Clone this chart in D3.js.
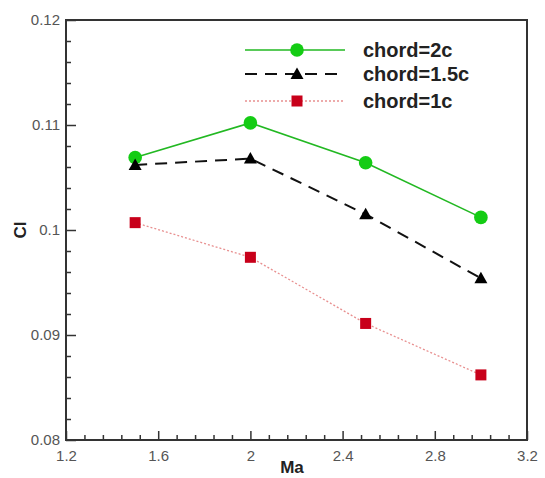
<!DOCTYPE html>
<html>
<head>
<meta charset="utf-8">
<script src="https://cdn.jsdelivr.net/npm/d3@7/dist/d3.min.js"></script>
<style>
  html, body { margin: 0; padding: 0; background: #fff; }
  svg { display: block; font-family: "Liberation Sans", Arial, sans-serif; }
</style>
</head>
<body>
<svg id="chart" width="545" height="478"></svg>
<script>
// Mach numbers
const machNumbers = [1.5, 2.0, 2.5, 3.0];
// Lift coefficient per chord length
const clChord2c   = [0.1069, 0.1102, 0.1064, 0.1012];
const clChord15c  = [0.1062, 0.1068, 0.1015, 0.0954];
const clChord1c   = [0.1007, 0.0974, 0.0911, 0.0862];

const seriesNames = ["chord=2c", "chord=1.5c", "chord=1c"];
const xTicks = [1.2, 1.6, 2.0, 2.4, 2.8, 3.2];
const yTicks = [0.08, 0.09, 0.10, 0.11, 0.12];

const svg = d3.select("#chart");
const plotLeft = 66, plotRight = 527, plotTop = 20, plotBottom = 440;

const x = d3.scaleLinear().domain([1.2, 3.2]).range([plotLeft, plotRight]);
const y = d3.scaleLinear().domain([0.08, 0.12]).range([plotBottom, plotTop]);

const axisColor = "#333";

// minor ticks (inward)
const xMinor = d3.range(0, 26).map(i => 1.2 + i * 0.08).filter(v => !xTicks.some(t => Math.abs(t - v) < 1e-6));
const yMinor = d3.range(0, 21).map(i => 0.08 + i * 0.002).filter(v => !yTicks.some(t => Math.abs(t - v) < 1e-6));

const xAxisG = svg.append("g").attr("transform", `translate(0,${plotBottom})`)
  .call(d3.axisBottom(x).tickValues(xTicks).tickSize(-9).tickPadding(10)
        .tickFormat(d => String(+d.toFixed(1))));
const xMinorG = svg.append("g").attr("transform", `translate(0,${plotBottom})`)
  .call(d3.axisBottom(x).tickValues(xMinor).tickSize(-5).tickFormat(""));

const yAxisG = svg.append("g").attr("transform", `translate(${plotLeft},0)`)
  .call(d3.axisLeft(y).tickValues(yTicks).tickSize(-10).tickPadding(6)
        .tickFormat(d => String(+d.toFixed(2))));
const yMinorG = svg.append("g").attr("transform", `translate(${plotLeft},0)`)
  .call(d3.axisLeft(y).tickValues(yMinor).tickSize(-5).tickFormat(""));

[xAxisG, xMinorG, yAxisG, yMinorG].forEach(g => {
  g.select(".domain").remove();
  g.selectAll(".tick line").attr("stroke", axisColor).attr("stroke-width", 1.5);
  g.selectAll(".tick text").attr("fill", "#555").style("font-size", "15px");
});

// plot frame
svg.append("rect")
  .attr("x", plotLeft).attr("y", plotTop)
  .attr("width", plotRight - plotLeft).attr("height", plotBottom - plotTop)
  .attr("fill", "none").attr("stroke", axisColor).attr("stroke-width", 2);

// axis titles
svg.append("text").attr("x", 292).attr("y", 473)
  .attr("text-anchor", "middle").attr("font-weight", "bold")
  .attr("font-size", 17).attr("fill", "#222").text("Ma");
svg.append("text").attr("transform", `translate(26,230) rotate(-90)`)
  .attr("text-anchor", "middle").attr("font-weight", "bold")
  .attr("font-size", 17).attr("fill", "#222").text("Cl");

const styles = [
  { data: clChord2c,  line: "#22b822", width: 1.6, dash: null,   marker: "circle" },
  { data: clChord15c, line: "#111",    width: 2,   dash: "12,8", marker: "triangle" },
  { data: clChord1c,  line: "#e89090", width: 1.3, dash: "2,2",  marker: "square" }
];

const lineGen = d3.line().x((d, i) => x(machNumbers[i])).y(d => y(d));

function drawMarker(g, kind, cx, cy) {
  if (kind === "circle") {
    g.append("circle").attr("cx", cx).attr("cy", cy).attr("r", 6.8).attr("fill", "#14cc14");
  } else if (kind === "triangle") {
    g.append("path").attr("d", `M${cx},${cy - 6.5} L${cx + 6.5},${cy + 5} L${cx - 6.5},${cy + 5} Z`).attr("fill", "#000");
  } else {
    g.append("rect").attr("x", cx - 5.5).attr("y", cy - 5.5).attr("width", 11).attr("height", 11).attr("fill", "#c8001a");
  }
}

const plotG = svg.append("g");
styles.forEach(s => {
  plotG.append("path").datum(s.data).attr("d", lineGen)
    .attr("fill", "none").attr("stroke", s.line).attr("stroke-width", s.width)
    .attr("stroke-dasharray", s.dash);
});
styles.forEach(s => {
  s.data.forEach((v, i) => drawMarker(plotG, s.marker, x(machNumbers[i]), y(v)));
});

// legend
const legendRows = [50, 74, 101];
const legG = svg.append("g");
styles.forEach((s, i) => {
  const ly = legendRows[i];
  legG.append("line").attr("x1", 245).attr("x2", 345).attr("y1", ly).attr("y2", ly)
    .attr("stroke", s.line).attr("stroke-width", s.width).attr("stroke-dasharray", s.dash);
  drawMarker(legG, s.marker, 297, ly);
  legG.append("text").attr("x", 363).attr("y", ly + 7)
    .attr("font-size", 20).attr("font-weight", "bold").attr("fill", "#222")
    .text(seriesNames[i]);
});
</script>
</body>
</html>
